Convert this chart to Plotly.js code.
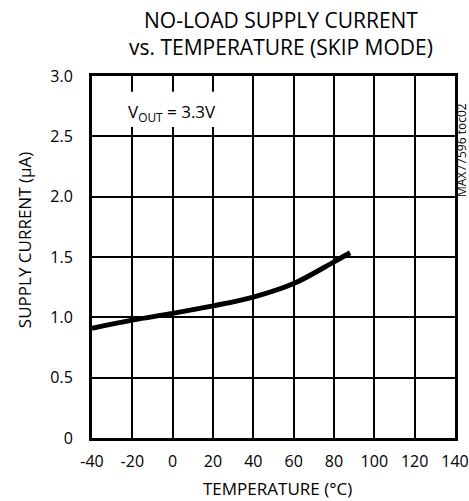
<!DOCTYPE html>
<html>
<head>
<meta charset="utf-8">
<script src="https://cdn.plot.ly/plotly-3.0.1.min.js"></script>
<style>html,body{margin:0;padding:0;background:#fff;}#chart{width:469px;height:501px;}</style>
</head>
<body>
<div id="chart"></div>
<script>
// Data
const temperature = [-40, -20, 0, 20, 40, 60, 80, 88];
const supplyCurrent = [0.91, 0.977, 1.033, 1.095, 1.168, 1.28, 1.46, 1.535];
const xTicks = [-40, -20, 0, 20, 40, 60, 80, 100, 120, 140];
const yTicks = [0, 0.5, 1.0, 1.5, 2.0, 2.5, 3.0];
const yTickText = ["0", "0.5", "1.0", "1.5", "2.0", "2.5", "3.0"];

const font = "'Open Sans', sans-serif";
const plotL = 92, plotR = 455, plotT = 76, plotB = 437.7;
const px2x = p => (p - plotL) / (plotR - plotL);
const px2y = p => (plotB - p) / (plotB - plotT);

const trace = {
  x: temperature, y: supplyCurrent, type: 'scatter', mode: 'lines',
  line: {color: '#000', width: 5, shape: 'spline', smoothing: 1}, hoverinfo: 'skip'
};

const layout = {
  width: 469, height: 501,
  margin: {l: 92, r: 14, t: 76, b: 63},
  paper_bgcolor: '#fff', plot_bgcolor: '#fff',
  showlegend: false,
  font: {family: font, color: '#000', size: 16},
  xaxis: {
    range: [-40, 140], tickvals: xTicks, ticktext: xTicks.map(String),
    showgrid: true, gridcolor: '#000', gridwidth: 2,
    showline: true, linecolor: '#000', linewidth: 3, mirror: true,
    zeroline: false, ticks: '', ticklabelstandoff: 7,
    tickfont: {family: font, size: 16, color: '#000'}
  },
  yaxis: {
    range: [0, 3.0], tickvals: yTicks, ticktext: yTickText,
    showgrid: true, gridcolor: '#000', gridwidth: 2,
    showline: true, linecolor: '#000', linewidth: 3, mirror: true,
    zeroline: false, ticks: '', ticklabelstandoff: 13,
    tickfont: {family: font, size: 16, color: '#000'}
  },
  shapes: [{
    type: 'rect', xref: 'x', yref: 'y', x0: -39, x1: 37.4, y0: 2.578, y1: 2.869,
    fillcolor: '#fff', line: {width: 0}, layer: 'between'
  }],
  annotations: [
    {text: 'NO-LOAD SUPPLY CURRENT<br>vs. TEMPERATURE (SKIP MODE)', xref: 'paper', yref: 'paper',
     x: px2x(281), y: px2y(33.5), xanchor: 'center', yanchor: 'middle', showarrow: false,
     font: {family: font, size: 21, color: '#000'}},
    {text: 'TEMPERATURE (°C)', xref: 'paper', yref: 'paper',
     x: px2x(277.5), y: px2y(488), xanchor: 'center', yanchor: 'middle', showarrow: false,
     font: {family: font, size: 17, color: '#000'}},
    {text: 'SUPPLY CURRENT (µA)', xref: 'paper', yref: 'paper',
     x: px2x(24), y: px2y(240), xanchor: 'center', yanchor: 'middle', textangle: -90, showarrow: false,
     font: {family: font, size: 17, color: '#000'}},
    {text: 'V<sub>OUT</sub> = 3.3V', xref: 'paper', yref: 'paper', x: px2x(172), y: px2y(112),
     xanchor: 'center', yanchor: 'middle', showarrow: false, font: {family: font, size: 17, color: '#000'}},
    {text: 'MAX77596 toc02', xref: 'paper', yref: 'paper', x: px2x(461), y: px2y(150),
     xanchor: 'center', yanchor: 'middle', textangle: -90, showarrow: false,
     font: {family: font, size: 12, color: '#000'}}
  ]
};

Plotly.newPlot('chart', [trace], layout, {displayModeBar: false, staticPlot: true});
</script>
</body>
</html>
